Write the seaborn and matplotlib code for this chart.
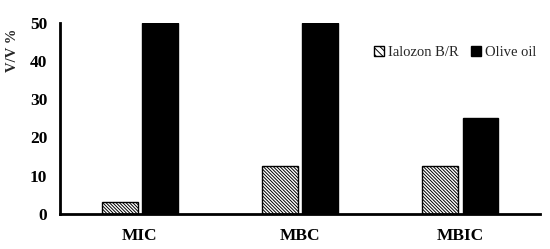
import matplotlib
matplotlib.use("Agg")
import matplotlib.pyplot as plt
import seaborn as sns
import pandas as pd

categories = ["MIC", "MBC", "MBIC"]
series_names = ["Ialozon B/R", "Olive oil"]
ialozon = [3.125, 12.5, 12.5]
olive = [50, 50, 25]
yticks = [0, 10, 20, 30, 40, 50]

df = pd.DataFrame({
    "cat": categories * 2,
    "series": [series_names[0]] * 3 + [series_names[1]] * 3,
    "val": ialozon + olive,
})

sns.set_theme(style="white")
plt.rcParams["font.family"] = ["Liberation Serif", "DejaVu Serif"]
plt.rcParams["hatch.linewidth"] = 0.7

HATCH = "\\" * 10

fig = plt.figure(figsize=(5.5, 2.49), dpi=100)
ax = fig.add_axes([0.109, 0.141, 0.873, 0.767])
sns.barplot(data=df, x="cat", y="val", hue="series", order=categories,
            hue_order=series_names, palette=["white", "black"],
            width=0.51, gap=0.12, ax=ax, edgecolor="black", linewidth=1.0,
            legend=True)
for p in ax.containers[0]:
    p.set_hatch(HATCH)
    p.set_facecolor("white")
ax.set_ylim(0, 50)
ax.set_yticks(yticks)
ax.set_xlim(-0.5, 2.5)
for s in ["top", "right"]:
    ax.spines[s].set_visible(False)
for s in ["left", "bottom"]:
    ax.spines[s].set_linewidth(2)
    ax.spines[s].set_color("black")
ax.tick_params(axis="y", length=0, labelsize=12.5, colors="black", pad=9)
ax.tick_params(axis="x", length=0, labelsize=12.5, colors="black", pad=10)
for lab in ax.get_yticklabels() + ax.get_xticklabels():
    lab.set_fontweight("bold")
ax.set_xlabel("")
ax.set_ylabel("")
fig.text(13 / 550, 1 - 50 / 249, "V/V %", rotation=90, ha="center", va="center",
         fontsize=10.5, fontweight="bold")
handles, labels = ax.get_legend_handles_labels()
handles[0].set_hatch("\\" * 5)
ax.legend(handles, labels, loc="upper right", bbox_to_anchor=(1.02, 0.95), ncol=2,
          frameon=False, fontsize=10.5, handlelength=0.7, handleheight=0.7,
          handletextpad=0.3, columnspacing=0.8)
fig.savefig("out.png", dpi=100)
